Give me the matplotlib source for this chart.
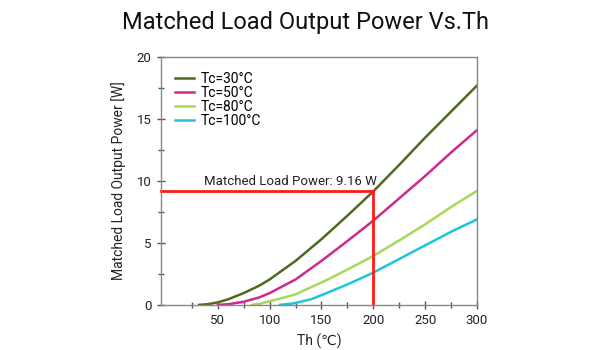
import matplotlib
matplotlib.use("Agg")
import matplotlib.pyplot as plt
from matplotlib.ticker import MultipleLocator, FixedLocator

plt.rcParams['font.family'] = ['Roboto', 'DejaVu Sans']

th30 = [32, 40, 50, 60, 75, 90, 100, 125, 150, 175, 200, 225, 250, 275, 300]
p30 = [0.0, 0.05, 0.2, 0.45, 0.95, 1.55, 2.05, 3.55, 5.3, 7.2, 9.16, 11.3, 13.5, 15.6, 17.7]
th50 = [50, 60, 75, 90, 100, 125, 150, 175, 200, 225, 250, 275, 300]
p50 = [0.0, 0.05, 0.25, 0.6, 0.95, 2.05, 3.55, 5.15, 6.8, 8.6, 10.4, 12.3, 14.1]
th80 = [83, 91, 100, 110, 125, 155, 175, 200, 225, 250, 275, 300]
p80 = [0.0, 0.1, 0.3, 0.5, 0.85, 2.0, 2.85, 3.95, 5.2, 6.5, 7.9, 9.2]
th100 = [110, 123, 140, 155, 175, 200, 225, 250, 275, 300]
p100 = [0.0, 0.12, 0.45, 0.95, 1.65, 2.6, 3.7, 4.8, 5.9, 6.9]

labels = ["Tc=30°C", "Tc=50°C", "Tc=80°C", "Tc=100°C"]
colors = ["#4f6a1c", "#cc2a8c", "#a6d95a", "#1ec4dc"]

marker_th = 200
marker_p = 9.16

fig = plt.figure(figsize=(6, 3.5), dpi=100)
ax = fig.add_axes([0.268, 0.129, 0.527, 0.708])

for x, y, c, l in zip([th30, th50, th80, th100], [p30, p50, p80, p100], colors, labels):
    ax.plot(x, y, color=c, lw=1.8, label=l)

xmin = -5
ax.plot([xmin, marker_th], [marker_p, marker_p], color="#ff1a1a", lw=2, clip_on=False)
ax.plot([marker_th, marker_th], [0, marker_p], color="#ff1a1a", lw=2)
ax.text(37, marker_p + 0.3, "Matched Load Power: 9.16 W", fontsize=9.5, color="#222222", va="bottom")

ax.set_xlim(xmin, 300)
ax.set_ylim(0, 20)
ax.xaxis.set_major_locator(FixedLocator([50, 100, 150, 200, 250, 300]))
ax.xaxis.set_minor_locator(FixedLocator([25, 75, 125, 175, 225, 275]))
ax.yaxis.set_major_locator(MultipleLocator(5))
ax.yaxis.set_minor_locator(MultipleLocator(2.5))
ax.tick_params(which="both", direction="inout", colors="#555555", labelcolor="#222222", labelsize=9.5)
ax.tick_params(which="major", length=6, width=1)
ax.tick_params(which="minor", length=4, width=1)
for s in ax.spines.values():
    s.set_color("#888888")
    s.set_linewidth(1)

ax.set_xlabel("Th (℃)", fontsize=10, color="#222222", labelpad=5)
ax.set_ylabel("Matched Load Output Power [W]", fontsize=10, color="#222222", labelpad=8)

ax.legend(loc="upper left", frameon=False, fontsize=10, handlelength=1.35,
          labelspacing=0.0, borderaxespad=0.75, handletextpad=0.45, borderpad=0.3)

fig.suptitle("Matched Load Output Power Vs.Th", x=0.51, fontsize=17, y=0.97, color="#111111")

fig.savefig("out.png", dpi=100)
